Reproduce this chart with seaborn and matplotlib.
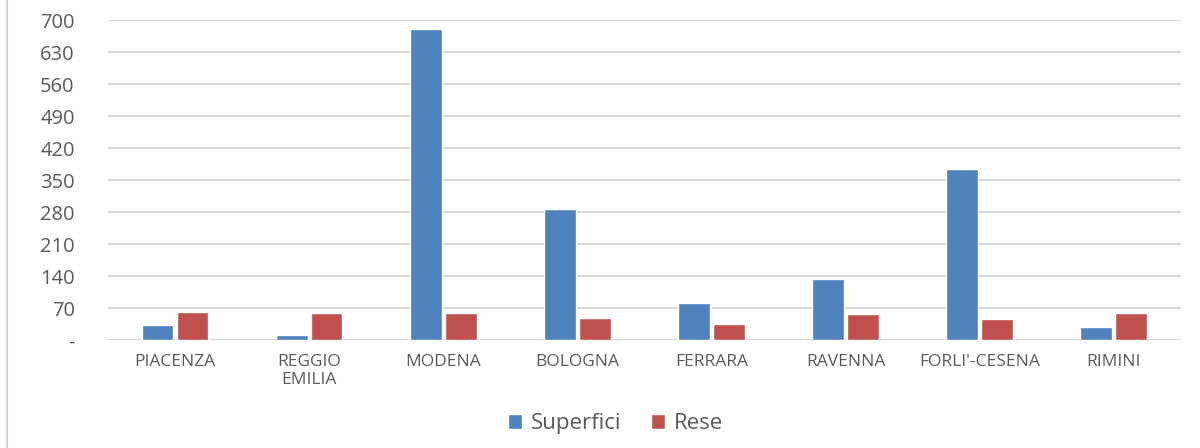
import pandas as pd
import matplotlib.pyplot as plt
import seaborn as sns
from matplotlib.lines import Line2D

# Values
province = ["PIACENZA", "REGGIO\nEMILIA", "MODENA", "BOLOGNA",
            "FERRARA", "RAVENNA", "FORLI'-CESENA", "RIMINI"]
superfici = [32, 12, 681, 286, 80, 133, 374, 29]
rese = [62, 60, 60, 49, 36, 56, 47, 60]
y_ticks = [0, 70, 140, 210, 280, 350, 420, 490, 560, 630, 700]
y_labels = ["-"] + [str(v) for v in y_ticks[1:]]

df = pd.DataFrame({
    "Provincia": province * 2,
    "Valore": superfici + rese,
    "Serie": ["Superfici"] * len(province) + ["Rese"] * len(province),
})

sns.set_style("white")
plt.rcParams["font.family"] = ["Open Sans", "DejaVu Sans"]

fig = plt.figure(figsize=(12, 4.48), dpi=100)
ax = fig.add_axes([0.09, 0.241, 0.894, 0.714])

sns.barplot(data=df, x="Provincia", y="Valore", hue="Serie",
            palette={"Superfici": "#4F81BD", "Rese": "#C0504D"},
            width=0.52, gap=0.09, saturation=1, ax=ax)

ax.set_ylim(0, 700)
ax.set_xlim(-0.5, len(province) - 0.5)
ax.set_yticks(y_ticks)
ax.set_yticklabels(y_labels)
ax.yaxis.grid(True, color="#D9D9D9", linewidth=1.5)
ax.set_axisbelow(True)
for s in ax.spines.values():
    s.set_visible(False)
ax.axhline(0, color="#D9D9D9", linewidth=1.5, zorder=0)
ax.tick_params(axis="y", length=0, pad=24, labelsize=14.5, labelcolor="#595959")
ax.tick_params(axis="x", length=0, pad=10, labelsize=12.5, labelcolor="#595959")
ax.set_xlabel("")
ax.set_ylabel("")

ax.legend(loc="center", bbox_to_anchor=(0.513, 0.054), bbox_transform=fig.transFigure,
          ncol=2, frameon=False, fontsize=16, labelcolor="#595959",
          handlelength=0.65, handleheight=0.65, columnspacing=1.3, handletextpad=0.4)

# chart area border on the left
fig.add_artist(Line2D([0.006, 0.006], [0, 1], color="#D9D9D9", linewidth=1.5))

fig.savefig("out.png", dpi=100)
